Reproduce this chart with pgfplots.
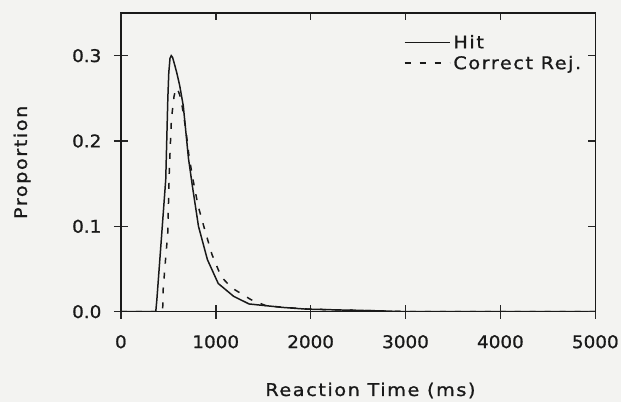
\documentclass[border=0pt]{standalone}
\usepackage{fontspec}
\setmainfont{DejaVu Sans}[FakeStretch=1.1, LetterSpace=9, FakeBold=1.0]
\newfontfamily\numfont{DejaVu Sans}[FakeStretch=1.05, FakeBold=1.0]
\usepackage{pgfplots}
\pgfplotsset{compat=1.18}
\newcommand\plotfont{\fontsize{17.5bp}{20bp}\selectfont}
\newcommand\tickfont{\numfont\fontsize{17.5bp}{20bp}\selectfont}
\definecolor{ink}{RGB}{25,25,25}
\definecolor{paper}{RGB}{243,243,241}

\begin{document}
\begin{tikzpicture}
  % page background (axis box is 475bp x 299bp at the origin)
  \fill[paper] (-121bp,-90bp) rectangle (501bp,312bp);

  \begin{axis}[
    scale only axis,
    width=475bp, height=299bp,
    xmin=0, xmax=5000,
    ymin=0, ymax=0.35,
    xtick={0,1000,...,5000},
    ytick={0,0.1,0.2,0.3},
    scaled x ticks=false,
    xtick pos=bottom, ytick pos=left,
    tick align=center,
    major tick length=14bp,
    axis line style={draw=ink, line width=1.5pt},
    major tick style={draw=black!85, line width=1.5pt},
    /pgf/number format/assume math mode=true,
    /pgf/number format/1000 sep={},
    every tick label/.append style={font=\tickfont, text=ink},
    xticklabel style={yshift=-13bp},
    yticklabel style={/pgf/number format/fixed, /pgf/number format/fixed zerofill,
      /pgf/number format/precision=1, xshift=-9bp},
    xlabel={Reaction Time (ms)},
    ylabel={Proportion},
    every axis x label/.style={at={(rel axis cs:0.526,-0.264)}, anchor=center, font=\plotfont, text=ink},
    every axis y label/.style={at={(rel axis cs:-0.208,0.5)}, anchor=center, rotate=90, font=\plotfont, text=ink},
    legend style={draw=none, fill=none, font=\plotfont, text=ink, inner sep=0pt,
      at={(0.977,0.93)}, anchor=north east, row sep=4bp,
      nodes={inner xsep=3bp, inner ysep=1bp}},
    legend cell align=left,
    legend image code/.code={\draw[#1] (-13bp,0bp) -- (32bp,0bp);},
  ]
    % Hit
    \addplot[ink, line width=1.5pt] coordinates {
      (0,0) (368,0) (380,0.015) (420,0.075) (473,0.155) (495,0.25) (505,0.28)
      (518,0.297) (531,0.30) (545,0.298) (570,0.288) (589,0.28) (620,0.265)
      (658,0.241) (690,0.205) (712,0.18) (754,0.147) (818,0.10) (912,0.061)
      (1026,0.033) (1188,0.018) (1351,0.009) (1528,0.007) (1702,0.005)
      (1948,0.003) (2300,0.002) (2700,0.001) (3000,0) (5000,0)
    };
    \addlegendentry{Hit}

    % Correct rejection
    \addplot[ink, line width=1.5pt, dash pattern=on 6bp off 9bp] coordinates {
      (0,0) (440,0) (446,0.026) (470,0.06) (494,0.092) (511,0.167) (533,0.226)
      (560,0.252) (580,0.262) (600,0.26) (620,0.254) (640,0.245) (684,0.214)
      (716,0.184) (756,0.157) (814,0.124) (884,0.096) (960,0.067) (1057,0.041)
      (1167,0.028) (1372,0.014) (1528,0.007) (1720,0.005) (1970,0.003)
      (2300,0.002) (2700,0.001) (3000,0) (5000,0)
    };
    \addlegendentry{Correct Rej.}
  \end{axis}

  % inner ticks on the top and right edges
  \begin{axis}[
    scale only axis,
    width=475bp, height=299bp,
    xmin=0, xmax=5000,
    ymin=0, ymax=0.35,
    xtick={0,1000,...,5000},
    ytick={0,0.1,0.2,0.3},
    axis x line*=top,
    axis y line*=right,
    tick align=inside,
    major tick length=7bp,
    xticklabels={}, yticklabels={},
    axis line style={draw=ink, line width=1.5pt},
    major tick style={draw=black!85, line width=1.5pt},
  ]
  \end{axis}
\end{tikzpicture}
\end{document}
